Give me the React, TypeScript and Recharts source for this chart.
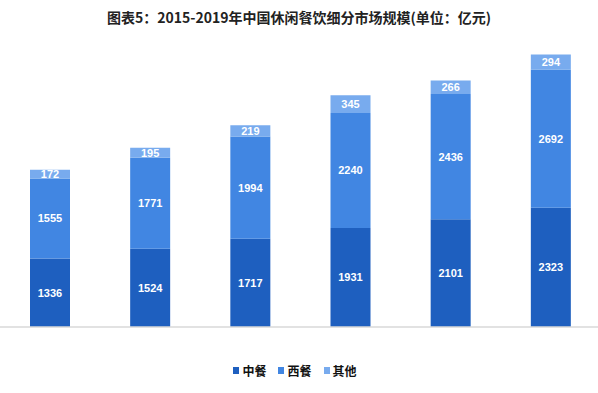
import React from "react";
import { BarChart, Bar, XAxis, YAxis, LabelList, ReferenceLine, Legend } from "recharts";

const years = ["2014", "2015", "2016", "2017", "2018", "2019"];
const zhong = [1336, 1524, 1717, 1931, 2101, 2323];
const xi = [1555, 1771, 1994, 2240, 2436, 2692];
const qita = [172, 195, 219, 345, 266, 294];

const chartData = years.map((y, i) => ({ name: y, 中餐: zhong[i], 西餐: xi[i], 其他: qita[i] }));

const colors = { 中餐: "#1e5fbf", 西餐: "#4186e2", 其他: "#78abee" };

const labelStyle = {
  fill: "#ffffff",
  fontSize: 11,
  fontWeight: 700,
  fontFamily: "'Liberation Sans', Arial, sans-serif",
};

function LegendBox() {
  const items = ["中餐", "西餐", "其他"] as const;
  return (
    <div style={{ display: "flex", justifyContent: "center", gap: 12, fontFamily: "'Noto Sans CJK SC', sans-serif", fontSize: 12, fontWeight: 700, color: "#111" }}>
      {items.map((k) => (
        <div key={k} style={{ display: "flex", alignItems: "center", gap: 3 }}>
          <span style={{ display: "inline-block", width: 6, height: 7, background: colors[k] }} />
          {k}
        </div>
      ))}
    </div>
  );
}

export default function App() {
  return (
    <div style={{ position: "relative", width: 598, height: 393, overflow: "hidden", background: "#fff" }}>
      <style>{"body{margin:0}"}</style>
      <div style={{ position: "absolute", top: 6, left: 0, width: 598, textAlign: "center", fontFamily: "'Noto Sans CJK SC', sans-serif", fontSize: 14, fontWeight: 700, color: "#222", lineHeight: "22px" }}>
        图表5：2015-2019年中国休闲餐饮细分市场规模(单位：亿元)
      </div>
      <BarChart width={601} height={393} data={chartData} margin={{ top: 19, right: 0, left: 0, bottom: 49 }}>
        <XAxis dataKey="name" hide />
        <YAxis hide domain={[0, 6000]} />
        <ReferenceLine y={0} stroke="#d9d9d9" strokeWidth={1.5} ifOverflow="extendDomain" />
        <Legend verticalAlign="bottom" content={() => <LegendBox />} wrapperStyle={{ top: 362, left: 0, width: 590 }} />
        <Bar dataKey="中餐" stackId="a" fill={colors.中餐} barSize={40} isAnimationActive={false}>
          <LabelList dataKey="中餐" position="center" style={labelStyle} />
        </Bar>
        <Bar dataKey="西餐" stackId="a" fill={colors.西餐} barSize={40} isAnimationActive={false}>
          <LabelList dataKey="西餐" position="center" style={labelStyle} />
        </Bar>
        <Bar dataKey="其他" stackId="a" fill={colors.其他} barSize={40} isAnimationActive={false}>
          <LabelList dataKey="其他" position="center" style={labelStyle} />
        </Bar>
      </BarChart>
    </div>
  );
}
